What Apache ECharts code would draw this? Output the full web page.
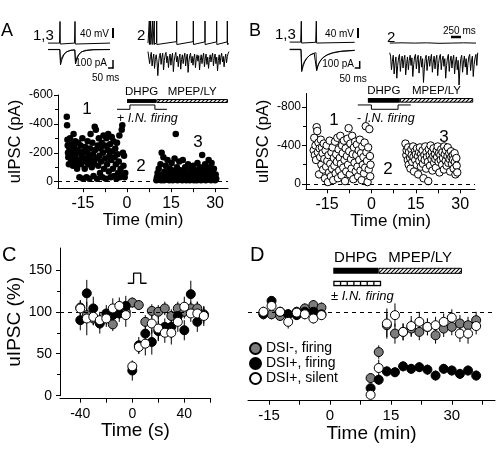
<!DOCTYPE html>
<html><head><meta charset="utf-8">
<script src="https://cdn.jsdelivr.net/npm/echarts@6/dist/echarts.min.js"></script>
<style>html,body{margin:0;padding:0;background:#fff}#c{width:496px;height:450px}</style>
</head><body><div id="c"></div>
<script>
// ================= DATA =================
// Panel A: uIPSC amplitudes (pA) vs time (min), DSI+ cell, + I.N. firing
const aPre = [[-20.5,-450],[-20.4,-390],[-20.3,-290],[-20.2,-250],[-20.1,-200],[-20,-170],[-19.8,-120],[-19.6,-230],[-19.4,-300],[-19.2,-180],[-19,-140],[-18.8,-260],[-18.6,-210],[-18.4,-110],[-18.2,-330],[-18,-240],[-17.8,-160],[-17.6,-280],[-17.4,-190],[-17.2,-130],[-17,-90],[-16.8,-220],[-16.6,-270],[-16.4,-150],[-16.2,-30],[-16,-200],[-15.8,-250],[-15.6,-120],[-15.4,-180],[-15.2,-300],[-15,-20],[-14.8,-210],[-14.6,-160],[-14.4,-90],[-14.2,-240],[-14,-140],[-13.8,-30],[-13.6,-200],[-13.4,-280],[-13.2,-120],[-13,-170],[-12.8,-20],[-12.6,-230],[-12.4,-330],[-12.2,-150],[-12,-100],[-11.8,-270],[-11.6,-190],[-11.4,-40],[-11.2,-130],[-11,-380],[-10.8,-220],[-10.6,-360],[-10.4,-160],[-10.2,-20],[-10,-250],[-9.8,-110],[-9.6,-300],[-9.4,-180],[-9.2,-60],[-9,-230],[-8.8,-140],[-8.6,-270],[-8.4,-30],[-8.2,-200],[-8,-320],[-7.8,-90],[-7.6,-250],[-7.4,-160],[-7.2,-20],[-7,-300],[-6.8,-120],[-6.6,-220],[-6.4,-330],[-6.2,-70],[-6,-180],[-5.8,-260],[-5.6,-30],[-5.4,-150],[-5.2,-310],[-5,-210],[-4.8,-90],[-4.6,-280],[-4.4,-40],[-4.2,-170],[-4,-230],[-3.8,-120],[-3.6,-20],[-3.4,-270],[-3.2,-190],[-3,-60],[-2.8,-140],[-2.6,-320],[-2.4,-30],[-2.2,-90],[-2,-50],[-1.8,-360],[-1.6,-390],[-1.4,-200],[-1.2,-110],[-1,-180],[-0.8,-30],[-0.6,-60]];
const aPost = [[10,-10],[10.2,-30],[10.4,-60],[10.6,-15],[10.8,-90],[11,-20],[11.2,-40],[11.4,-120],[11.6,-10],[11.8,-200],[12,-50],[12.2,-25],[12.4,-170],[12.6,-10],[12.8,-70],[13,-30],[13.2,-110],[13.4,-15],[13.6,-45],[13.8,-150],[14,-20],[14.2,-60],[14.4,-10],[14.6,-90],[14.8,-35],[15,-15],[15.2,-130],[15.4,-50],[15.6,-10],[15.8,-75],[16,-25],[16.2,-160],[16.4,-15],[16.6,-330],[16.8,-40],[17,-100],[17.2,-10],[17.4,-60],[17.6,-30],[17.8,-140],[18,-15],[18.2,-80],[18.4,-20],[18.6,-45],[18.8,-10],[19,-150],[19.2,-30],[19.4,-70],[19.6,-15],[19.8,-100],[20,-40],[20.2,-10],[20.4,-60],[20.6,-25],[20.8,-120],[21,-15],[21.2,-50],[21.4,-10],[21.6,-90],[21.8,-30],[22,-70],[22.2,-15],[22.4,-45],[22.6,-110],[22.8,-10],[23,-35],[23.2,-80],[23.4,-20],[23.6,-55],[23.8,-10],[24,-130],[24.2,-30],[24.4,-70],[24.6,-15],[24.8,-100],[25,-40],[25.2,-10],[25.4,-60],[25.6,-185],[25.8,-25],[26,-80],[26.2,-15],[26.4,-50],[26.6,-120],[26.8,-10],[27,-35],[27.2,-90],[27.4,-20],[27.6,-65],[27.8,-150],[28,-15],[28.2,-45],[28.4,-100],[28.6,-10],[28.8,-130],[29,-30],[29.2,-60],[29.4,-15],[29.6,-90],[29.8,-35],[30,-10],[30.2,-50],[30.4,-20]];
// Panel B: uIPSC amplitudes (pA) vs time (min), - I.N. firing
const bPre = [[-19.5,-350],[-19.3,-480],[-19.1,-300],[-18.9,-400],[-18.7,-250],[-18.5,-590],[-18.3,-550],[-18.1,-330],[-17.9,-430],[-17.7,-100],[-17.5,-370],[-17.3,-280],[-17.1,-460],[-16.9,-200],[-16.7,-380],[-16.5,-320],[-16.3,-150],[-16.1,-420],[-15.9,-260],[-15.7,-60],[-15.5,-350],[-15.3,-180],[-15.1,-400],[-14.9,-240],[-14.7,-20],[-14.5,-300],[-14.3,-120],[-14.1,-450],[-13.9,-210],[-13.7,-80],[-13.5,-330],[-13.3,-160],[-13.1,-380],[-12.9,-40],[-12.7,-270],[-12.5,-190],[-12.3,-440],[-12.1,-110],[-11.9,-310],[-11.7,-230],[-11.5,-480],[-11.3,-60],[-11.1,-360],[-10.9,-140],[-10.7,-270],[-10.5,-500],[-10.3,-210],[-10.1,-90],[-9.9,-400],[-9.7,-320],[-9.5,-170],[-9.3,-450],[-9.1,-250],[-8.9,-30],[-8.7,-370],[-8.5,-130],[-8.3,-290],[-8.1,-470],[-7.9,-200],[-7.7,-580],[-7.5,-340],[-7.3,-100],[-7.1,-420],[-6.9,-260],[-6.7,-160],[-6.5,-500],[-6.3,-310],[-6.1,-50],[-5.9,-380],[-5.7,-220],[-5.5,-440],[-5.3,-130],[-5.1,-300],[-4.9,-410],[-4.7,-180],[-4.5,-80],[-4.3,-350],[-4.1,-250],[-3.9,-460],[-3.7,-140],[-3.5,-320],[-3.3,-40],[-3.1,-390],[-2.9,-200],[-2.7,-280],[-2.5,-110],[-2.3,-430],[-2.1,-170],[-1.9,-600],[-1.7,-330],[-1.5,-240],[-1.3,-20],[-1.1,-380],[-0.9,-150],[-0.7,-570],[-0.5,-290],[-0.4,-80],[-0.3,-200]];
const bPost = [[11.5,-420],[11.8,-300],[11.9,-350],[12.3,-250],[12.4,-380],[12.6,-200],[12.7,-330],[13.1,-270],[13.2,-160],[13.5,-360],[13.6,-300],[13.8,-230],[14.1,-390],[14.2,-280],[14.4,-130],[14.7,-340],[14.8,-250],[15.0,-310],[15.3,-200],[15.4,-370],[15.7,-290],[15.8,-100],[16.1,-330],[16.2,-240],[16.4,-380],[16.7,-180],[16.8,-310],[17.0,-270],[17.3,-350],[17.4,-210],[17.6,-60],[17.9,-300],[18.0,-250],[18.2,-390],[18.5,-160],[18.6,-330],[18.8,-280],[19.1,-230],[19.2,-30],[19.4,-360],[19.7,-300],[19.8,-190],[20.0,-400],[20.3,-260],[20.4,-330],[20.6,-140],[20.9,-290],[21.0,-370],[21.2,-220],[21.5,-310],[21.6,-260],[21.8,-170],[22.1,-350],[22.2,-280],[22.4,-390],[22.7,-230],[22.8,-320],[23.0,-120],[23.3,-300],[23.4,-250],[23.6,-360],[23.9,-200],[24.0,-330],[24.2,-270],[24.5,-150],[24.6,-390],[24.8,-310],[25.1,-240],[25.2,-350],[25.4,-190],[25.7,-290],[25.8,-380],[26.0,-220],[26.3,-320],[26.4,-260],[26.6,-130],[26.9,-340],[27.0,-280],[27.2,-210],[27.5,-300],[27.6,-250],[27.8,-160],[28.1,-320],[28.2,-230],[28.4,-100],[28.7,-270],[28.8,-190],[29.0,-120]];
// Drug application windows (min)
const aDrug = [[0,10,0],[10,34.4,1]];
const aFiring = [[-3.4,-501],[1,-501],[1,-531],[9.5,-531],[9.5,-501],[13.6,-501]];
const bDrug = [[-1.2,9.6,0],[9.6,34.4,1]];
const bFiring = [[-4.6,-821],[0,-821],[0,-776],[9,-776],[9,-821],[13.3,-821]];
const dDrug = [[0.8,11.9,0],[11.9,32.5,1],[0.8,12.6,2]];
const drugNames = ['DHPG','MPEP/LY',''];
// Panel C: DSI time course (%), time (s)
const cTime  = [-40,-35,-30,-25,-20,-15,-10,-5,0,5,10,15,20,25,30,35,40,45,50,55];
const cGray  = [105,96,92,88,93,85,100,100,111,108,88,101,100,104,95,104,100,104,104,97];
const cGrayE = [8,8,8,8,8,8,8,8,6,6,8,8,8,8,8,8,8,8,8,8];
const cBlack = [90,122,104,86,98,96,98,107,30,60,74,64,77,82,82,95,78,121,88,96];
const cBlackE= [12,16,14,12,10,12,10,12,12,10,12,15,12,10,14,12,12,16,12,10];
const cWhite = [104,92,94,90,92,104,107,96,35,58,62,86,80,75,75,88,106,98,98,95];
const cWhiteE= [10,20,10,10,10,12,10,14,6,8,14,12,14,12,14,12,12,10,14,12];
const cPulse = [[-3.5,134],[1,134],[1,146],[6.5,146],[6.5,134],[11,134]];
// Panel D: normalised uIPSC (%) vs time (min)
const dTime  = [-16.4,-14.4,-12.3,-10.3,-8.2,-6.2,-4.1,-2.1,10,12,14,16,18,20,22,24,26,28,30,32,34,36];
const dGray  = [97,97,95,97,100,104,108,105,21,52,84,74,76,80,76,82,72,80,82,86,84,90];
const dGrayE = [6,6,6,6,6,6,6,6,6,8,14,12,10,10,10,10,10,10,10,10,10,10];
const dBlack = [98,113,100,97,96,100,100,97,9,19,29,28,35,32,34,31,24,32,30,26,30,24];
const dBlackE= [5,5,5,5,5,5,5,5,5,6,6,6,6,6,6,6,6,6,6,6,6,6];
const dWhite = [100,107,100,88,99,97,92,96,1,33,86,96,76,83,88,82,84,88,93,74,74,83];
const dWhiteE= [6,6,6,8,6,6,6,6,5,10,18,14,10,12,12,10,10,10,10,10,12,10];
const seriesNames = ['DSI-, firing','DSI+, firing','DSI+, silent'];
// Tick values
const abXTicks = [-15,-7.5,0,7.5,15,22.5,30], abXLabels = [-15,0,15,30];
const aYLabels = [-600,-400,-200,0], aYMinor = [-500,-300,-100];
const bYLabels = [-800,-400,0], bYMinor = [-600,-200];
const cXTicks = [-40,-20,0,20,40,60], cXLabels = [-40,0,40];
const cYLabels = [0,50,100,150], cYMinor = [25,75,125];
const dXTicks = [-15,-7.5,0,7.5,15,22.5,30,37.5], dXLabels = [-15,0,15,30];
// Example traces (time ms, mV / pA)
const a13V = [[0,-62],[115,-62],[118,-61],[120,28],[123,-66],[132,-62],[265,-62],[268,-61],[270,28],[273,-66],[282,-62],[620,-62]];
const a13I1 = [[0,0],[118,0],[125,-190],[140,-120],[160,-60],[190,-25],[230,-8],[268,-5],[275,-180],[290,-110],[310,-60],[340,-25],[400,-8],[460,-2],[620,0]];
const a13I3 = [[0,2],[118,2],[125,-140],[145,-80],[175,-35],[220,-10],[268,-3],[275,-150],[295,-80],[325,-35],[370,-10],[450,0],[620,2]];
const a2V = [[0,-62],[30,-58],[33,30],[36,-68],[64,-60],[67,30],[70,-68],[114,-60],[117,30],[120,-68],[155,-60],[158,30],[161,-68],[214,-60],[217,30],[220,-68],[714,-56],[717,30],[720,-68],[1130,-56],[1133,30],[1136,-68],[1422,-57],[1425,30],[1428,-68],[1714,-57],[1717,30],[1720,-68],[1980,-57],[1983,30],[1986,-68],[2025,-64]];
const a2I = [0,-20,-150,-60,-10,-180,-90,-30,-210,-100,-40,-120,-300,-140,-50,-20,-160,-70,-20,-230,-110,-40,-10,-140,-60,-200,-90,-30,-170,-70,-20,-250,-120,-50,-10,-130,-60,-190,-80,-30,-220,-100,-40,-150,-70,-20,-180,-80,-30,-260,-120,-50,-20,-140,-60,-170,-80,-30,-200,-90,-40,-120,-50,-230,-110,-40,-150,-70,-20,-190,-90,-30,-160,-70,-210,-100,-40,-130,-60,-20,-180,-80,-30,-150,-70,-240,-110,-40,-160,-70,-20,-130,-60,-190,-90,-30,-140,-60,-20,0];
const b13V = [[0,-62],[110,-62],[113,-60],[116,25],[119,-66],[130,-63],[260,-63],[263,-60],[266,25],[269,-66],[280,-63],[650,-63]];
const b13I1 = [[0,0],[113,0],[120,-270],[135,-200],[150,-150],[175,-100],[205,-65],[245,-45],[263,-40],[270,-260],[285,-190],[305,-140],[335,-95],[380,-60],[440,-35],[520,-18],[650,-8]];
const b13I3 = [[0,5],[113,5],[120,-230],[140,-160],[165,-110],[200,-70],[240,-45],[263,-38],[270,-240],[290,-170],[320,-115],[360,-75],[420,-45],[500,-25],[650,-10]];
const b2V = [[0,-62],[300,-61],[600,-62],[900,-61],[1200,-63],[1500,-62],[1800,-61],[2100,-62]];
const b2I = [0,-40,-200,-100,-30,-250,-120,-50,-300,-150,-60,-20,-220,-100,-40,-180,-80,-30,-260,-130,-50,-200,-90,-30,-150,-60,-280,-140,-50,-20,-190,-80,-30,-240,-110,-40,-170,-70,-350,-180,-70,-30,-210,-100,-40,-160,-70,-20,-230,-110,-40,-190,-80,-30,-270,-130,-50,-20,-200,-90,-40,-160,-70,-300,-150,-60,-20,-220,-100,-40,-180,-80,-30,-250,-120,-50,-200,-90,-380,-190,-70,-30,-230,-110,-40,-170,-70,-260,-130,-50,-20,-210,-100,-40,-280,-140,-60,-20,-150,0];

// ================= BUILD =================
const FONT = '"Liberation Sans", Arial, Helvetica, sans-serif';
const hatchCanvas = (function(){const c=document.createElement('canvas');c.width=4;c.height=4;const g=c.getContext('2d');g.fillStyle='#fff';g.fillRect(0,0,4,4);g.strokeStyle='#000';g.lineWidth=1.1;g.beginPath();g.moveTo(-1,5);g.lineTo(5,-1);g.moveTo(3,5);g.lineTo(5,3);g.moveTo(-1,1);g.lineTo(1,-1);g.stroke();return c;})();

const grids=[],xAxes=[],yAxes=[],series=[];
const addG=g=>{grids.push(g);return grids.length-1;};
const addX=o=>{xAxes.push(o);return xAxes.length-1;};
const addY=o=>{yAxes.push(o);return yAxes.length-1;};
const blk={color:'#000',width:1};
function mainAxis(add,gi,o){
  return add(Object.assign({type:'value',gridIndex:gi,splitLine:{show:false},
    axisLine:{show:true,onZero:false,lineStyle:blk},
    axisTick:{show:true,length:4,customValues:o.ticks,lineStyle:blk},
    axisLabel:{show:true,customValues:o.labels,fontSize:o.fs,margin:o.margin,color:'#000',fontFamily:FONT},
    nameLocation:'middle',nameTextStyle:{fontSize:o.nfs,color:'#000',fontFamily:FONT}},o.extra));
}
function minorAxis(add,gi,min,max,vals,inv){
  return add({type:'value',gridIndex:gi,min,max,inverse:!!inv,position:'left',splitLine:{show:false},
    axisLine:{show:false,onZero:false},axisLabel:{show:false},axisTick:{show:true,length:3,customValues:vals,lineStyle:blk}});
}
function hidden(add,gi,min,max,extra){return add(Object.assign({type:'value',gridIndex:gi,min,max,show:false,splitLine:{show:false}},extra||{}));}
const dashed = v=>({silent:true,symbol:'none',label:{show:false},lineStyle:{type:[4,4],color:'#000',width:1},data:[{yAxis:v}]});

// ---- Panel A ----
const gA = addG({left:58,top:95,width:170,height:93.2});
const xA = mainAxis(addX,gA,{ticks:abXTicks,labels:abXLabels,fs:16,margin:7,nfs:17,extra:{min:-23.5,max:34.4,name:'Time (min)',nameGap:20}});
const yA = mainAxis(addY,gA,{ticks:aYLabels,labels:aYLabels,fs:12,margin:5,nfs:16.5,extra:{min:-600,max:45,inverse:true,name:'uIPSC (pA)',nameGap:34}});
const yAm = minorAxis(addY,gA,-600,45,aYMinor,true);
// ---- Panel B ----
const gB = addG({left:306,top:93.5,width:169,height:95.8});
const xB = mainAxis(addX,gB,{ticks:abXTicks,labels:abXLabels,fs:16,margin:7,nfs:17,extra:{min:-22.1,max:35,name:'Time (min)',nameGap:20}});
const yB = mainAxis(addY,gB,{ticks:bYLabels,labels:bYLabels,fs:12,margin:5,nfs:16.5,extra:{min:-940,max:55,inverse:true,name:'uIPSC (pA)',nameGap:34}});
const yBm = minorAxis(addY,gB,-940,55,bYMinor,true);
// ---- Panel C ----
const gC = addG({left:60,top:248,width:150.7,height:147.7});
const xC = mainAxis(addX,gC,{ticks:cXTicks,labels:cXLabels,fs:14,margin:8,nfs:19,extra:{min:-55.6,max:60.3,offset:3,name:'Time (s)',nameGap:22}});
const yC = mainAxis(addY,gC,{ticks:cYLabels,labels:cYLabels,fs:14,margin:8,nfs:19,extra:{min:0,max:176,name:'uIPSC (%)',nameGap:32}});
const yCm = minorAxis(addY,gC,0,176,cYMinor,false);
// ---- Panel D ----
const gD = addG({left:248,top:248,width:247,height:147.7});
const xD = mainAxis(addX,gD,{ticks:dXTicks,labels:dXLabels,fs:15,margin:8,nfs:19,extra:{min:-20.2,max:40.64,offset:5,name:'Time (min)',nameGap:21}});
const yD = hidden(addY,gD,0,176);

// ---- scatter A/B ----
series.push({type:'scatter',xAxisIndex:xA,yAxisIndex:yA,data:aPre.concat(aPost),symbolSize:6.5,itemStyle:{color:'#000',opacity:1},markLine:dashed(0),z:3});
series.push({type:'scatter',xAxisIndex:xB,yAxisIndex:yB,data:bPre.concat(bPost),symbolSize:7.5,itemStyle:{color:'#fff',borderColor:'#000',borderWidth:1,opacity:1},markLine:dashed(0),z:3});
// firing step indicators
series.push({type:'line',xAxisIndex:xA,yAxisIndex:yA,data:aFiring,showSymbol:false,lineStyle:{color:'#000',width:1},z:4});
series.push({type:'line',xAxisIndex:xB,yAxisIndex:yB,data:bFiring,showSymbol:false,lineStyle:{color:'#000',width:1},z:4});
series.push({type:'line',xAxisIndex:xC,yAxisIndex:yC,data:cPulse,showSymbol:false,lineStyle:{color:'#000',width:1.3},z:4});

// drug bars
function barSeries(xi,yi,rows,vTop,vBot,fs){
  return {type:'custom',xAxisIndex:xi,yAxisIndex:yi,clip:false,z:6,data:rows,
    renderItem:(p,api)=>{
      const a=api.coord([api.value(0),vTop]), b=api.coord([api.value(1),vBot]);
      const k=api.value(2);
      const x=Math.min(a[0],b[0]), y=Math.min(a[1],b[1]), w=Math.abs(b[0]-a[0]), h=Math.abs(b[1]-a[1]);
      const ch=[];
      if(k===0) ch.push({type:'rect',shape:{x,y,width:w,height:h},style:{fill:'#000'}});
      else if(k===1) ch.push({type:'rect',shape:{x:x+0.5,y:y+0.5,width:w-1,height:h-1},style:{fill:{image:hatchCanvas,repeat:'repeat'},stroke:'#000',lineWidth:1}});
      if(drugNames[p.dataIndex]) ch.push({type:'text',x:x+w/2,y:y-1.5,style:{text:drugNames[p.dataIndex],textAlign:'center',textVerticalAlign:'bottom',fontSize:fs,fontFamily:FONT,fill:'#000'}});
      return {type:'group',children:ch};
    }};
}
series.push(barSeries(xA,yA,aDrug,-572,-545,11.5));
series.push(barSeries(xB,yB,bDrug,-893,-845,11.5));
// panel D bars, with the firing box
series.push({type:'custom',xAxisIndex:xD,yAxisIndex:yD,clip:false,z:6,data:dDrug,
  renderItem:(p,api)=>{
    const k=api.value(2);
    const vt=k===2?137:152.4, vb=k===2?130.5:145.2;
    const a=api.coord([api.value(0),vt]), b=api.coord([api.value(1),vb]);
    const x=a[0], y=a[1], w=b[0]-a[0], h=b[1]-a[1];
    const ch=[];
    if(k===0) ch.push({type:'rect',shape:{x,y,width:w,height:h},style:{fill:'#000'}});
    else if(k===1) ch.push({type:'rect',shape:{x:x+0.5,y:y+0.5,width:w-1,height:h-1},style:{fill:{image:hatchCanvas,repeat:'repeat'},stroke:'#000',lineWidth:1}});
    else {
      ch.push({type:'rect',shape:{x,y,width:w,height:h},style:{fill:'#000'}});
      const n=7,g=1.3,cw=(w-2*g-(n-1)*g)/n;
      for(let i=0;i<n;i++) ch.push({type:'rect',shape:{x:x+g+i*(cw+g),y:y+g,width:cw,height:h-2*g},style:{fill:'#fff'}});
    }
    if(drugNames[p.dataIndex]) ch.push({type:'text',x:x+w/2,y:y-2,style:{text:drugNames[p.dataIndex],textAlign:'center',textVerticalAlign:'bottom',fontSize:15,fontFamily:FONT,fill:'#000'}});
    return {type:'group',children:ch};
  }});

// error bars + circles for C and D
function errSeries(xi,yi,ts,vs,es){
  return {type:'custom',xAxisIndex:xi,yAxisIndex:yi,z:2,data:ts.map((t,i)=>[t,vs[i],es[i]]),
    renderItem:(p,api)=>{const a=api.coord([api.value(0),api.value(1)-api.value(2)]),b=api.coord([api.value(0),api.value(1)+api.value(2)]);
      return {type:'line',shape:{x1:a[0],y1:a[1],x2:b[0],y2:b[1]},style:{stroke:'#000',lineWidth:1}};}};
}
const fills=['#7c7c7c','#000','#fff'];
const cVals=[cGray,cBlack,cWhite], cErrs=[cGrayE,cBlackE,cWhiteE];
const dVals=[dGray,dBlack,dWhite], dErrs=[dGrayE,dBlackE,dWhiteE];
for(let s=0;s<3;s++){ series.push(errSeries(xC,yC,cTime,cVals[s],cErrs[s])); series.push(errSeries(xD,yD,dTime,dVals[s],dErrs[s])); }
for(let s=0;s<3;s++){
  series.push({type:'scatter',name:seriesNames[s],xAxisIndex:xC,yAxisIndex:yC,z:3+s,symbolSize:9,
    itemStyle:{color:fills[s],borderColor:'#000',borderWidth:1,opacity:1},data:cTime.map((t,i)=>[t,cVals[s][i]]),
    markLine:s===0?dashed(100):undefined});
}
for(let s=0;s<3;s++){
  series.push({type:'scatter',name:seriesNames[s],xAxisIndex:xD,yAxisIndex:yD,z:3+s,symbolSize:9,
    itemStyle:{color:fills[s],borderColor:'#000',borderWidth:1,opacity:1},data:dTime.map((t,i)=>[t,dVals[s][i]]),
    markLine:s===0?dashed(100):undefined});
}

// ---- example traces (insets) ----
function inset(box,xmin,xmax,ymin,ymax,traces,cat){
  const g=addG(box);
  const xi = cat ? addX({type:'category',gridIndex:g,show:false,boundaryGap:false,data:traces[0].map((_,i)=>i)}) : hidden(addX,g,xmin,xmax);
  const yi = hidden(addY,g,ymin,ymax);
  traces.forEach((d,i)=>series.push({type:'line',xAxisIndex:xi,yAxisIndex:yi,data:d,showSymbol:false,silent:true,
    lineStyle:{color:'#000',width:i?0.8:1}}));
}
inset({left:48,top:21,width:62,height:24},0,620,-70,30,[a13V]);
inset({left:48,top:48,width:62,height:20},0,620,-230,20,[a13I1,a13I3]);
inset({left:148,top:21,width:81,height:24},0,2025,-70,30,[a2V]);
inset({left:148,top:50,width:81,height:28},0,0,-330,20,[a2I],true);
inset({left:289.7,top:20,width:65,height:24},0,650,-70,30,[b13V]);
inset({left:289.7,top:48,width:65,height:26},0,650,-300,20,[b13I1,b13I3]);
inset({left:389.7,top:21,width:86.3,height:24},0,2100,-70,30,[b2V]);
inset({left:389.7,top:51,width:88,height:34},0,0,-380,20,[b2I],true);

// ---- annotations ----
const T=(x,y,text,fs,extra)=>Object.assign({type:'text',x,y,silent:true,style:Object.assign({text,fontSize:fs,fontFamily:FONT,fill:'#000',textAlign:'left',textVerticalAlign:'middle'},extra||{})});
const L=(x1,y1,x2,y2,w)=>({type:'line',silent:true,shape:{x1,y1,x2,y2},style:{stroke:'#000',lineWidth:w||1}});
const graphic=[
  T(1,31,'A',18),T(249,31,'B',18),T(2,255,'C',20),T(250,255,'D',20),
  T(33,36,'1,3',15),T(137,36,'2',15),T(275,35,'1,3',15),T(387,38,'2',15),
  T(109,34,'40 mV',10,{textAlign:'right'}),L(113,28,113,38,2),
  T(107,63,'100 pA',10,{textAlign:'right'}),L(113,60,113,68.5,1.5),L(108,68,113.5,68,1.5),
  T(92,78,'50 ms',10),
  T(354,34,'40 mV',10,{textAlign:'right'}),L(358,28,358,38,2),
  T(354,64,'100 pA',10,{textAlign:'right'}),L(359.7,61,359.7,68.5,1.5),L(354.7,68,360.2,68,1.5),
  T(339.5,79.5,'50 ms',10),
  T(443,31,'250 ms',10),L(451,37,461,37,2.5),
  T(87,109,'1',17,{textAlign:'center'}),T(141,166,'2',17,{textAlign:'center'}),T(198,142,'3',17,{textAlign:'center'}),
  T(334,120,'1',17,{textAlign:'center'}),T(388,169,'2',17,{textAlign:'center'}),T(444,137,'3',17,{textAlign:'center'}),
  {type:'text',x:117,y:118.5,silent:true,style:{text:'{n|+ }{i|I.N. firing}',textVerticalAlign:'middle',rich:{n:{fontSize:12.5,fontFamily:FONT},i:{fontSize:12.5,fontFamily:FONT,fontStyle:'italic'}}}},
  {type:'text',x:357,y:118.5,silent:true,style:{text:'{n|- }{i|I.N. firing}',textVerticalAlign:'middle',rich:{n:{fontSize:12.5,fontFamily:FONT},i:{fontSize:12.5,fontFamily:FONT,fontStyle:'italic'}}}},
  {type:'text',x:331,y:296,silent:true,style:{text:'{n|± }{i|I.N. firing}',textVerticalAlign:'middle',rich:{n:{fontSize:13,fontFamily:FONT},i:{fontSize:13,fontFamily:FONT,fontStyle:'italic'}}}}
];

const option={animation:false,backgroundColor:'#fff',
  grid:grids,xAxis:xAxes,yAxis:yAxes,series,graphic,
  legend:{data:seriesNames,orient:'vertical',left:249,top:341,padding:0,itemGap:0,itemWidth:11,itemHeight:11,
    textStyle:{fontSize:14,fontFamily:FONT,color:'#000',lineHeight:15},selectedMode:false}
};
const chart=echarts.init(document.getElementById('c'),null,{renderer:'canvas'});
chart.setOption(option);
</script></body></html>
